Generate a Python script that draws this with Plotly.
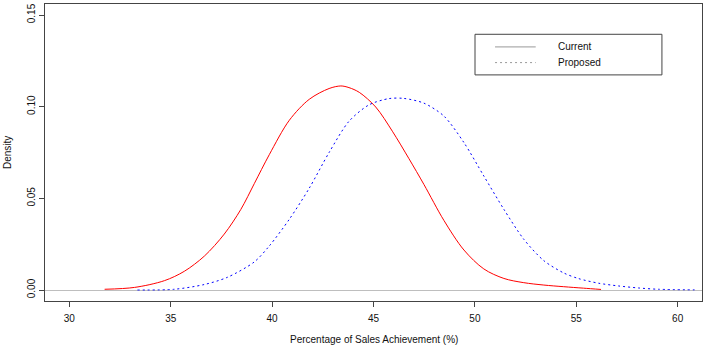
import plotly.graph_objects as go

# Density estimates
current_x = [31.74, 33.21, 34.69, 35.67, 36.66, 37.64, 38.46, 39.12, 39.86, 40.85,
             41.83, 42.81, 43.39, 43.79, 44.30, 45.11, 45.93, 46.75, 47.49, 48.47, 49.46,
             50.44, 51.43, 52.41, 53.40, 54.38, 55.36, 56.22]
current_y = [0.0004, 0.0014, 0.0051, 0.0102, 0.0185, 0.0305, 0.0440, 0.0580, 0.0738, 0.0926,
             0.1040, 0.1099, 0.1113, 0.1104, 0.1078, 0.0998, 0.0866, 0.0716, 0.0575, 0.0380, 0.0218,
             0.0115, 0.0063, 0.0040, 0.0027, 0.0018, 0.0010, 0.0003]

proposed_x = [33.36, 35.18, 36.66, 37.79, 39.12, 39.86, 40.85, 41.83, 42.81, 43.79,
              44.78, 45.76, 46.50, 47.49, 48.47, 49.46, 50.44, 51.43, 52.41, 53.40,
              54.38, 55.12, 56.10, 57.09, 58.07, 59.06, 60.83]
proposed_y = [0.0000, 0.0004, 0.0030, 0.0069, 0.0153, 0.0240, 0.0386, 0.0555, 0.0750, 0.0920,
              0.1010, 0.1044, 0.1045, 0.1019, 0.0949, 0.0804, 0.0622, 0.0440, 0.0277, 0.0160,
              0.0093, 0.0062, 0.0037, 0.0022, 0.0011, 0.0004, 0.0001]

x_ticks = [30, 35, 40, 45, 50, 55, 60]
y_ticks = [0.00, 0.05, 0.10, 0.15]
y_tick_labels = ["0.00", "0.05", "0.10", "0.15"]
legend_labels = ["Current", "Proposed"]

FONT = "Liberation Sans, Arial, sans-serif"

fig = go.Figure()
fig.add_trace(go.Scatter(x=current_x, y=current_y, mode="lines",
                         line=dict(color="#FF0000", width=1, shape="spline", smoothing=0.9),
                         name="Current", showlegend=False))
fig.add_trace(go.Scatter(x=proposed_x, y=proposed_y, mode="lines",
                         line=dict(color="#0000FF", width=1, dash="2px,3px", shape="spline", smoothing=0.8),
                         name="Proposed", showlegend=False))

# legend box drawn like R's legend()
shapes = [
    dict(type="rect", xref="paper", yref="paper", x0=0.6545, x1=0.939, y0=0.7613, y1=0.898,
         line=dict(color="#444444", width=1), fillcolor="white"),
    dict(type="line", xref="paper", yref="paper", x0=0.685, x1=0.7469, y0=0.8555, y1=0.8555,
         line=dict(color="#999999", width=1)),
    dict(type="line", xref="paper", yref="paper", x0=0.685, x1=0.7469, y0=0.8027, y1=0.8027,
         line=dict(color="#999999", width=1, dash="2px,3px")),
]
annotations = [
    dict(xref="paper", yref="paper", x=0.7778, y=0.8555, text=legend_labels[0], showarrow=False,
         xanchor="left", yanchor="middle", font=dict(family=FONT, size=10, color="#111111")),
    dict(xref="paper", yref="paper", x=0.7778, y=0.8027, text=legend_labels[1], showarrow=False,
         xanchor="left", yanchor="middle", font=dict(family=FONT, size=10, color="#111111")),
    dict(xref="paper", yref="paper", x=-0.057, y=0.5, text="Density", showarrow=False,
         textangle=-90, xanchor="center", yanchor="middle",
         font=dict(family=FONT, size=10, color="#111111")),
    dict(xref="paper", yref="paper", x=0.5, y=-0.13, text="Percentage of Sales Achievement (%)",
         showarrow=False, xanchor="center", yanchor="middle",
         font=dict(family=FONT, size=10, color="#111111")),
]

fig.update_layout(
    width=707, height=357,
    margin=dict(l=45, r=5, t=4, b=56, autoexpand=False),
    paper_bgcolor="white", plot_bgcolor="white",
    font=dict(family=FONT, size=10, color="#111111"),
    shapes=shapes, annotations=annotations,
    showlegend=False,
)
fig.update_xaxes(range=[28.8, 61.2], tickvals=x_ticks, ticks="outside", ticklen=5,
                 ticklabelstandoff=3,
                 tickcolor="#444444", showline=True, linecolor="#444444", linewidth=1,
                 mirror=True, showgrid=False, zeroline=False, automargin=False,
                 tickfont=dict(family=FONT, size=10, color="#111111"))
fig.update_yaxes(range=[-0.006, 0.156], tickvals=y_ticks, ticktext=y_tick_labels,
                 ticks="outside", ticklen=5, tickangle=-90, automargin=False,
                 tickcolor="#444444", showline=True, linecolor="#444444", linewidth=1,
                 mirror=True, showgrid=False, zeroline=True, zerolinecolor="#BEBEBE",
                 zerolinewidth=1, tickfont=dict(family=FONT, size=10, color="#111111"))

fig.write_html("out.html", config={"displayModeBar": False},
               post_script="document.body.style.margin='0';")
